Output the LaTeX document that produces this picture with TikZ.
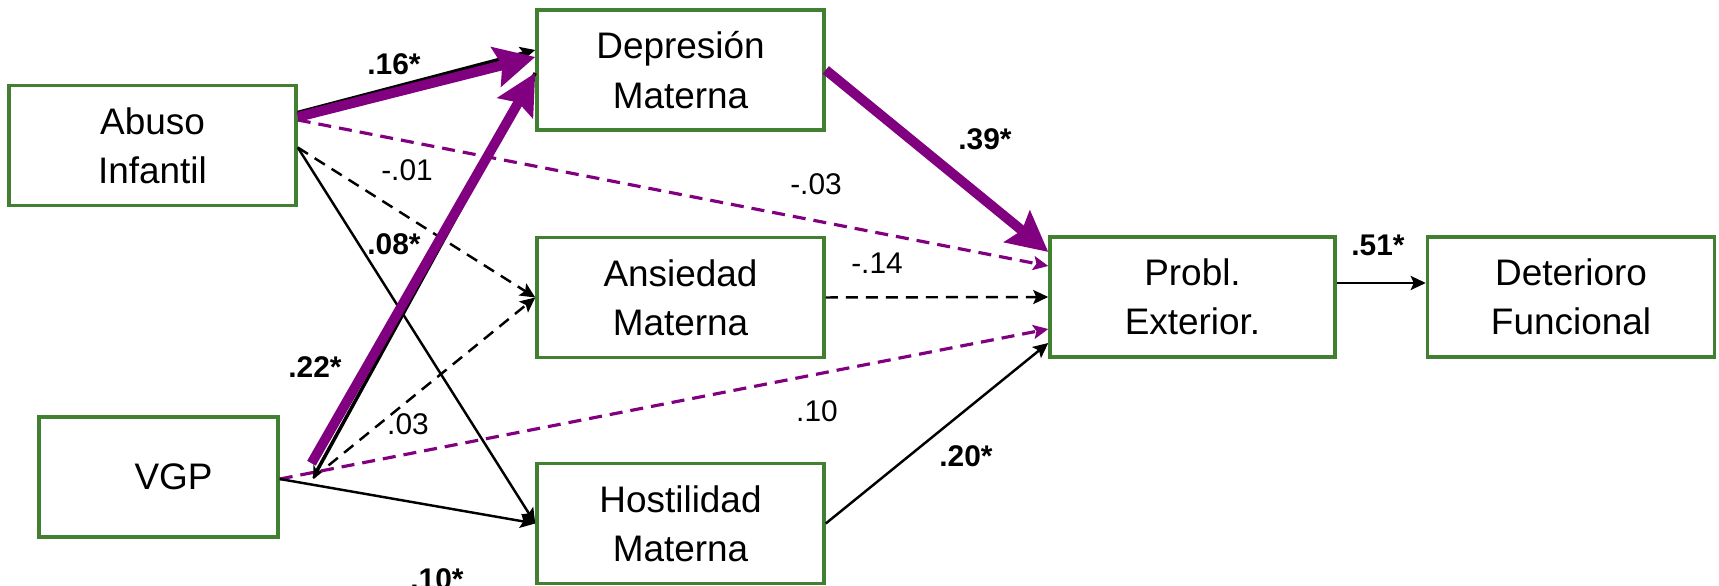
\documentclass[tikz,border=0pt]{standalone}
\usepackage{fontspec}
\setmainfont{Liberation Sans}
\usetikzlibrary{arrows.meta}
\definecolor{boxgreen}{RGB}{64,128,48}
\definecolor{pathpurple}{RGB}{128,0,128}

\tikzset{
  box/.style={draw=boxgreen, line width=0.95pt, minimum width=2.87cm, minimum height=1.2cm,
    align=center, inner sep=0pt, font=\fontsize{10.5}{14}\selectfont},
  coef/.style={inner sep=0pt, font=\fontsize{8.5}{10}\selectfont},
  sig/.style={inner sep=0pt, font=\fontsize{8.5}{10}\selectfont\bfseries},
  thin path/.style={line width=0.7pt, -{Stealth[length=0.15cm, width=0.14cm, inset=0.03cm]}},
  ns path/.style={thin path, dash pattern=on 0.12cm off 0.08cm},
  purple ns/.style={pathpurple, line width=0.9pt, dash pattern=on 0.13cm off 0.08cm,
    -{Stealth[length=0.15cm, width=0.14cm, inset=0.03cm]}},
  purple sig/.style={pathpurple, line width=2.8pt, -{Stealth[length=0.4cm, width=0.4cm, inset=0.06cm]}}
}

\begin{document}
\begin{tikzpicture}[x=0.01cm, y=-0.01cm]

  \useasboundingbox (0,0) rectangle (1719,586);

  % variables
  \node[box] (abuso) at (152.5,145.5) {Abuso\\Infantil};
  \node[box, minimum width=2.39cm] (vgp) at (158.5,477) {\hspace*{0.3cm}VGP};
  \node[box] (dep) at (680.5,70) {Depresión\\Materna};
  \node[box] (ans) at (680.5,297.5) {Ansiedad\\Materna};
  \node[box] (host) at (680.5,523.5) {Hostilidad\\Materna};
  \node[box, minimum width=2.85cm] (probl) at (1192.5,297) {Probl.\\Exterior.};
  \node[box] (det) at (1571,297) {Deterioro\\Funcional};

  % Abuso Infantil
  \draw[thin path, line width=1pt] ([yshift=0.33cm]abuso.east) -- ([yshift=0.2cm]dep.west);
  \draw[purple sig] ([yshift=0.285cm]abuso.east) -- ([yshift=0.13cm]dep.west);
  \draw[purple ns] ([yshift=0.255cm]abuso.east) -- ([yshift=0.31cm]probl.west);
  \draw[ns path] ([yshift=-0.02cm]abuso.east) -- (ans.west);
  \draw[thin path] ([yshift=-0.02cm]abuso.east) -- (host.west);

  % VGP
  \coordinate (vgpout) at (313,478);
  \draw[ns path] (vgpout) -- (ans.west);
  \draw[line width=1pt, {Stealth[length=0.12cm, width=0.12cm]}-] (vgpout) -- ([yshift=-0.03cm]dep.west);
  \draw[purple sig, shorten <=0.17cm] ([xshift=-0.1cm]vgpout) -- ([yshift=-0.03cm]dep.west);
  \draw[purple ns] ([yshift=-0.02cm]vgp.east) -- ([yshift=-0.32cm]probl.west);
  \draw[thin path] ([yshift=-0.02cm]vgp.east) -- (host.west);

  % mediators
  \draw[purple sig] (dep.east) -- ([yshift=0.45cm]probl.west);
  \draw[ns path] (ans.east) -- (probl.west);
  \draw[thin path] (host.east) -- ([yshift=-0.46cm]probl.west);
  \draw[thin path, line width=0.75pt] ([yshift=0.14cm]probl.east) -- ([yshift=0.14cm]det.west);

  % coefficients
  \node[sig] (c16) at (394,64) {.16*};
  \node[coef] (c01) at (407,170) {-.01};
  \node[sig] (c08) at (394,244) {.08*};
  \node[sig] (c22) at (315,367) {.22*};
  \node[coef] (c03) at (408,424) {.03};
  \node[sig] (c10s) at (437,579) {.10*};
  \node[sig] (c39) at (985,139) {.39*};
  \node[coef] (c03n) at (816,184) {-.03};
  \node[coef] (c14) at (877,263) {-.14};
  \node[coef] (c10) at (817,411) {.10};
  \node[sig] (c20) at (966,456) {.20*};
  \node[sig] (c51) at (1378,245) {.51*};

\end{tikzpicture}
\end{document}
